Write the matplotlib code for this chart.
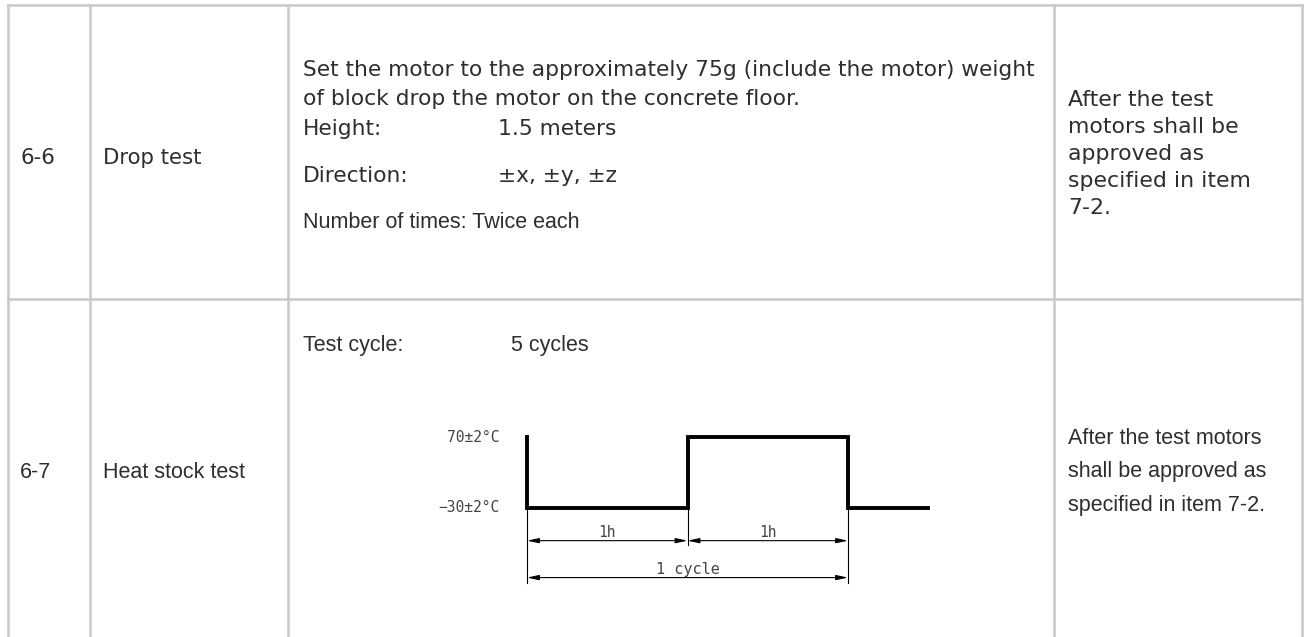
import matplotlib.pyplot as plt

# table text
row_ids = ["6-6", "6-7"]
row_names = ["Drop test", "Heat stock test"]
drop_lines = ["Set the motor to the approximately 75g (include the motor) weight",
              "of block drop the motor on the concrete floor."]
drop_params = [("Height:", "1.5 meters"), ("Direction:", "±x, ±y, ±z")]
drop_times = "Number of times: Twice each"
result_1 = ["After the test", "motors shall be", "approved as", "specified in item", "7-2."]
result_2 = ["After the test motors", "shall be approved as", "specified in item 7-2."]
cycle_label = ("Test cycle:", "5 cycles")

# heat shock profile (hours, deg C)
wave_t = [0, 0, 1, 1, 2, 2, 2.5]
wave_temp = [70, -30, -30, 70, 70, -30, -30]
temp_labels = ["70±2°C", "−30±2°C"]
step_h = [1, 1]

W, H = 1309, 637
fig = plt.figure(figsize=(W / 100, H / 100), dpi=100)
ax = fig.add_axes([0, 0, 1, 1])
ax.set_xlim(0, W)
ax.set_ylim(H, 0)
ax.axis("off")

grid = "#c8c8c8"
txt = "#2e2e2e"
cols = [8, 90, 288, 1054, 1302]
for x in cols:
    ax.plot([x, x], [5, H], color=grid, lw=1.8)
for y in [5, 299]:
    ax.plot([cols[0], cols[-1]], [y, y], color=grid, lw=1.8)

vfont = "DejaVu Sans"
afont = "Liberation Sans"
fs = 15.3

# row 6-6
ax.text(20, 158, row_ids[0], fontsize=fs, family=vfont, color=txt, va="center")
ax.text(103, 158, row_names[0], fontsize=fs, family=vfont, color=txt, va="center")
ax.text(303, 70, drop_lines[0], fontsize=15.7, family=vfont, color=txt, va="center")
ax.text(303, 99, drop_lines[1], fontsize=15.7, family=vfont, color=txt, va="center")
for (k, v), y in zip(drop_params, [129, 176]):
    ax.text(303, y, k, fontsize=15.7, family=vfont, color=txt, va="center")
    ax.text(498, y, v, fontsize=15.7, family=vfont, color=txt, va="center")
ax.text(303, 222, drop_times, fontsize=15.5, family=afont, color=txt, va="center")
for i, s in enumerate(result_1):
    ax.text(1068, 100 + i * 27, s, fontsize=15.8, family=vfont, color=txt, va="center")

# row 6-7
ax.text(20, 473, row_ids[1], fontsize=15.5, family=afont, color=txt, va="center")
ax.text(103, 473, row_names[1], fontsize=15.5, family=afont, color=txt, va="center")
ax.text(303, 345, cycle_label[0], fontsize=15.5, family=afont, color=txt, va="center")
ax.text(511, 345, cycle_label[1], fontsize=15.5, family=afont, color=txt, va="center")
for i, s in enumerate(result_2):
    ax.text(1068, 438 + i * 34, s, fontsize=15.5, family=afont, color=txt, va="center")

# waveform inset
ins = fig.add_axes([494.9 / W, 1 - 586.1 / H, 465.5 / W, 156.2 / H])
ins.set_xlim(-0.2, 2.7)
ins.set_ylim(-140, 80)
ins.axis("off")
ins.plot(wave_t, wave_temp, color="black", lw=2.8, solid_joinstyle="miter")

hi, lo = max(wave_temp), min(wave_temp)
for lab, yv in zip(temp_labels, [hi, lo]):
    ins.text(-0.17, yv, lab, fontsize=10.5, family="DejaVu Sans Mono", color="#444444",
             ha="right", va="center")

# dimension lines
dim1, dim2 = -76, -128
ends = [0, step_h[0], step_h[0] + step_h[1]]
arrow = dict(arrowstyle="<|-|>,head_length=0.7,head_width=0.15",
             color="black", lw=0.8, shrinkA=0, shrinkB=0)
ins.plot([ends[0], ends[0]], [lo, -136], color="black", lw=0.8)
ins.plot([ends[1], ends[1]], [lo, -82], color="black", lw=0.8)
ins.plot([ends[2], ends[2]], [lo, -136], color="black", lw=0.8)
for a, b in [(ends[0], ends[1]), (ends[1], ends[2])]:
    ins.annotate("", xy=(a, dim1), xytext=(b, dim1), arrowprops=arrow)
    ins.text((a + b) / 2, dim1 + 11, f"{step_h[0]}h", fontsize=10.5,
             family="DejaVu Sans Mono", ha="center", va="center", color="#444444")
ins.annotate("", xy=(ends[0], dim2), xytext=(ends[2], dim2), arrowprops=arrow)
ins.text((ends[0] + ends[2]) / 2, dim2 + 11, "1 cycle", fontsize=11,
         family="DejaVu Sans Mono", ha="center", va="center", color="#444444")

fig.savefig("out.png", dpi=100)
